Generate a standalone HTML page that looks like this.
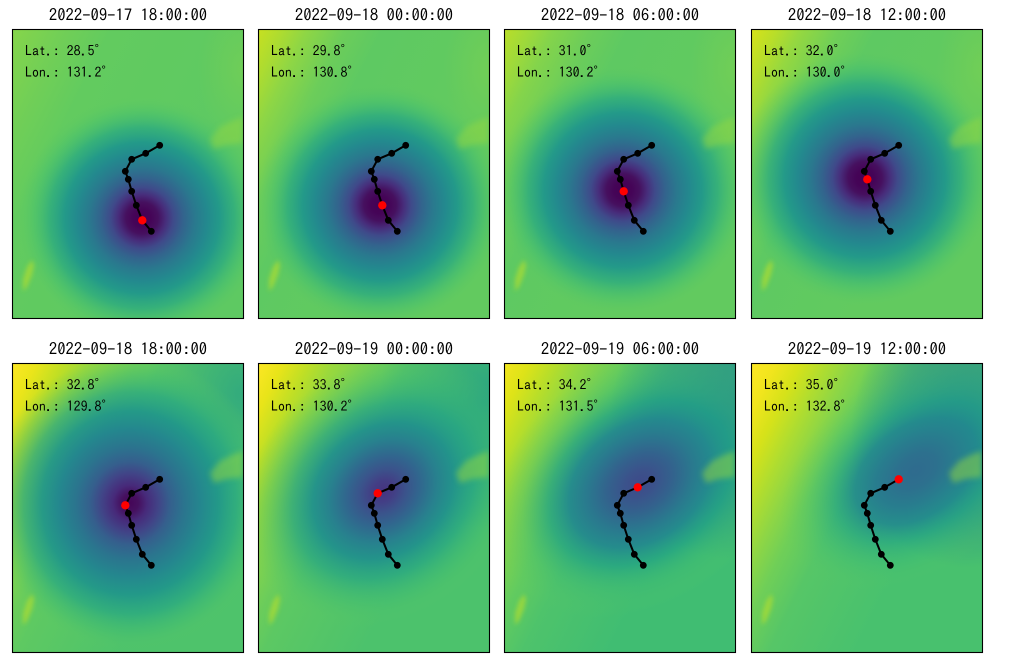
<!DOCTYPE html>
<html><head><meta charset="utf-8">
<style>
html,body{margin:0;padding:0;background:#fff;width:1017px;height:671px;overflow:hidden}
svg{display:block}
text{font-family:"IPAGothic","Liberation Mono",monospace;fill:#000}
.t{font-size:16.67px}
.l{font-size:13.9px}
</style></head><body>
<svg width="1017" height="671" viewBox="0 0 1017 671" xmlns="http://www.w3.org/2000/svg">
<defs>
<clipPath id="cp"><rect x="0" y="0" width="232" height="290"/></clipPath>
<filter id="b3" x="-50%" y="-50%" width="200%" height="200%"><feGaussianBlur stdDeviation="3"/></filter>
<filter id="b2" x="-50%" y="-50%" width="200%" height="200%"><feGaussianBlur stdDeviation="2"/></filter>

<linearGradient id="bg1" gradientUnits="userSpaceOnUse" x1="0" y1="0" x2="200" y2="100">
<stop offset="0" stop-color="#86d54a"/><stop offset="0.2" stop-color="#72cf56"/><stop offset="0.4" stop-color="#62cb5f"/><stop offset="1" stop-color="#5ec962"/></linearGradient>
<linearGradient id="bg2" gradientUnits="userSpaceOnUse" x1="0" y1="0" x2="200" y2="100">
<stop offset="0" stop-color="#c8e020"/><stop offset="0.1" stop-color="#addc30"/><stop offset="0.2" stop-color="#8ed645"/><stop offset="0.35" stop-color="#6ccd5a"/><stop offset="0.5" stop-color="#5ec962"/><stop offset="1" stop-color="#62ca5f"/></linearGradient>
<linearGradient id="bg3" gradientUnits="userSpaceOnUse" x1="0" y1="0" x2="200" y2="100">
<stop offset="0" stop-color="#bade28"/><stop offset="0.1" stop-color="#a0da39"/><stop offset="0.2" stop-color="#84d44b"/><stop offset="0.35" stop-color="#6ccd5a"/><stop offset="0.5" stop-color="#5ec962"/><stop offset="1" stop-color="#62ca5f"/></linearGradient>
<linearGradient id="bg4" gradientUnits="userSpaceOnUse" x1="0" y1="0" x2="200" y2="100">
<stop offset="0" stop-color="#d8e219"/><stop offset="0.1" stop-color="#bade28"/><stop offset="0.2" stop-color="#95d840"/><stop offset="0.35" stop-color="#70cf57"/><stop offset="0.5" stop-color="#5ec962"/><stop offset="1" stop-color="#62ca5f"/></linearGradient>
<linearGradient id="bg5" gradientUnits="userSpaceOnUse" x1="0" y1="0" x2="200" y2="100">
<stop offset="0" stop-color="#fde725"/><stop offset="0.1" stop-color="#eae51a"/><stop offset="0.2" stop-color="#c2df23"/><stop offset="0.3" stop-color="#9cd93b"/><stop offset="0.4" stop-color="#84d44b"/><stop offset="0.5" stop-color="#6ccd5a"/><stop offset="0.6" stop-color="#5ec962"/><stop offset="1" stop-color="#4ec36b"/></linearGradient>
<linearGradient id="bg6" gradientUnits="userSpaceOnUse" x1="0" y1="0" x2="200" y2="100">
<stop offset="0" stop-color="#fde725"/><stop offset="0.1" stop-color="#e8e419"/><stop offset="0.2" stop-color="#c0df25"/><stop offset="0.3" stop-color="#9ad93c"/><stop offset="0.4" stop-color="#82d34d"/><stop offset="0.5" stop-color="#6ccd5a"/><stop offset="0.6" stop-color="#5cc863"/><stop offset="1" stop-color="#4cc26c"/></linearGradient>
<linearGradient id="bg7" gradientUnits="userSpaceOnUse" x1="0" y1="0" x2="200" y2="100">
<stop offset="0" stop-color="#f4e61e"/><stop offset="0.1" stop-color="#dde318"/><stop offset="0.2" stop-color="#b8de29"/><stop offset="0.3" stop-color="#95d840"/><stop offset="0.4" stop-color="#7ad151"/><stop offset="0.5" stop-color="#62cb5f"/><stop offset="0.65" stop-color="#4ec36b"/><stop offset="1" stop-color="#40bd72"/></linearGradient>
<linearGradient id="bg8" gradientUnits="userSpaceOnUse" x1="0" y1="0" x2="200" y2="100">
<stop offset="0" stop-color="#fde725"/><stop offset="0.1" stop-color="#f1e51d"/><stop offset="0.2" stop-color="#d5e21a"/><stop offset="0.3" stop-color="#b0dd2f"/><stop offset="0.4" stop-color="#8ed645"/><stop offset="0.5" stop-color="#70cf57"/><stop offset="0.65" stop-color="#56c667"/><stop offset="1" stop-color="#48c16e"/></linearGradient>

<radialGradient id="lowA">
<stop offset="0" stop-color="#440154"/><stop offset="0.07" stop-color="#450457"/><stop offset="0.13" stop-color="#46105f"/><stop offset="0.19" stop-color="#472d7b"/><stop offset="0.25" stop-color="#3f4a8a"/><stop offset="0.33" stop-color="#33638d"/><stop offset="0.42" stop-color="#2a788e"/><stop offset="0.52" stop-color="#23898e"/><stop offset="0.62" stop-color="#20978b" stop-opacity="0.95"/><stop offset="0.74" stop-color="#28a882" stop-opacity="0.75"/><stop offset="0.87" stop-color="#40bd72" stop-opacity="0.4"/><stop offset="1" stop-color="#5ec962" stop-opacity="0"/></radialGradient>
<radialGradient id="lowB">
<stop offset="0" stop-color="#450658"/><stop offset="0.06" stop-color="#46105f"/><stop offset="0.12" stop-color="#472a7a"/><stop offset="0.2" stop-color="#414487"/><stop offset="0.28" stop-color="#355f8d"/><stop offset="0.38" stop-color="#2b748e"/><stop offset="0.5" stop-color="#24878e"/><stop offset="0.62" stop-color="#1f958b" stop-opacity="0.92"/><stop offset="0.75" stop-color="#25a584" stop-opacity="0.7"/><stop offset="0.88" stop-color="#3bb874" stop-opacity="0.35"/><stop offset="1" stop-color="#5ec962" stop-opacity="0"/></radialGradient>
<radialGradient id="lowC">
<stop offset="0" stop-color="#46337f"/><stop offset="0.08" stop-color="#433e85"/><stop offset="0.16" stop-color="#3b528b"/><stop offset="0.26" stop-color="#31668e"/><stop offset="0.38" stop-color="#28808e"/><stop offset="0.5" stop-color="#21918c" stop-opacity="0.95"/><stop offset="0.65" stop-color="#24a385" stop-opacity="0.7"/><stop offset="0.82" stop-color="#3bb874" stop-opacity="0.35"/><stop offset="1" stop-color="#5ec962" stop-opacity="0"/></radialGradient>
<radialGradient id="lowD">
<stop offset="0" stop-color="#3e4a89"/><stop offset="0.1" stop-color="#3b528b"/><stop offset="0.22" stop-color="#33628d"/><stop offset="0.35" stop-color="#2a788e"/><stop offset="0.48" stop-color="#23898e" stop-opacity="0.95"/><stop offset="0.62" stop-color="#20a086" stop-opacity="0.7"/><stop offset="0.8" stop-color="#3bb874" stop-opacity="0.3"/><stop offset="1" stop-color="#5ec962" stop-opacity="0"/></radialGradient>
<radialGradient id="lowE">
<stop offset="0" stop-color="#2f6b8e"/><stop offset="0.15" stop-color="#2d708e"/><stop offset="0.3" stop-color="#287d8e"/><stop offset="0.45" stop-color="#22898e" stop-opacity="0.9"/><stop offset="0.6" stop-color="#1fa088" stop-opacity="0.6"/><stop offset="0.8" stop-color="#35b779" stop-opacity="0.25"/><stop offset="1" stop-color="#5ec962" stop-opacity="0"/></radialGradient>

<radialGradient id="tr5"><stop offset="0" stop-color="#2aa383" stop-opacity="0.75"/><stop offset="1" stop-color="#2aa383" stop-opacity="0"/></radialGradient>
<radialGradient id="tr6"><stop offset="0" stop-color="#24a085" stop-opacity="0.85"/><stop offset="1" stop-color="#24a085" stop-opacity="0"/></radialGradient>
<radialGradient id="tr7"><stop offset="0" stop-color="#23898e" stop-opacity="0.95"/><stop offset="0.6" stop-color="#23898e" stop-opacity="0.5"/><stop offset="1" stop-color="#23898e" stop-opacity="0"/></radialGradient>
<radialGradient id="tr8"><stop offset="0" stop-color="#24848e" stop-opacity="0.95"/><stop offset="0.6" stop-color="#24848e" stop-opacity="0.5"/><stop offset="1" stop-color="#24848e" stop-opacity="0"/></radialGradient>
<radialGradient id="rl"><stop offset="0" stop-color="#7ad151" stop-opacity="0.6"/><stop offset="1" stop-color="#7ad151" stop-opacity="0"/></radialGradient>

<g id="patches">
<polygon points="198,110 208,98 220,92 231,88 231,114 214,116 202,120" fill="#95d840" opacity="0.5" filter="url(#b3)"/>
<polygon points="20,231 15,238 11,250 11,262 15,258 20,246 22,236" fill="#a8db34" opacity="0.75" filter="url(#b2)"/>
</g>
<g id="track">
<polyline points="147.7,116.3 133.7,124.3 119.7,130.3 113.3,142.3 116.3,150.3 119.7,162.3 124.3,176.3 130.3,191.3 139.3,202.3" fill="none" stroke="#000" stroke-width="2"/>
<circle cx="147.7" cy="116.3" r="3.4"/><circle cx="133.7" cy="124.3" r="3.4"/><circle cx="119.7" cy="130.3" r="3.4"/><circle cx="113.3" cy="142.3" r="3.4"/><circle cx="116.3" cy="150.3" r="3.4"/><circle cx="119.7" cy="162.3" r="3.4"/><circle cx="124.3" cy="176.3" r="3.4"/><circle cx="130.3" cy="191.3" r="3.4"/><circle cx="139.3" cy="202.3" r="3.4"/>
</g>
<rect id="frame" x="0.5" y="0.5" width="231" height="289" fill="none" stroke="#000" stroke-width="1.1"/>
</defs>

<!-- Panel 1 -->
<g transform="translate(12,29)">
<g clip-path="url(#cp)">
<rect width="232" height="290" fill="url(#bg1)"/>
<ellipse cx="231" cy="40" rx="45" ry="75" fill="url(#rl)"/>
<ellipse cx="130" cy="189" rx="125" ry="122" fill="url(#lowA)"/>
<use href="#patches"/>
</g>
<use href="#track"/>
<circle cx="130.3" cy="191.3" r="4.2" fill="#ff0000"/>
<use href="#frame"/>
<text class="l" x="13" y="26.5">Lat.: 28.5°</text>
<text class="l" x="13" y="48">Lon.: 131.2°</text>
</g>
<text class="t" x="128" y="21" text-anchor="middle">2022-09-17 18:00:00</text>

<!-- Panel 2 -->
<g transform="translate(258,29)">
<g clip-path="url(#cp)">
<rect width="232" height="290" fill="url(#bg2)"/>
<ellipse cx="231" cy="40" rx="45" ry="75" fill="url(#rl)"/>
<ellipse cx="122" cy="176" rx="125" ry="122" fill="url(#lowA)"/>
<use href="#patches"/>
</g>
<use href="#track"/>
<circle cx="124.3" cy="176.3" r="4.2" fill="#ff0000"/>
<use href="#frame"/>
<text class="l" x="13" y="26.5">Lat.: 29.8°</text>
<text class="l" x="13" y="48">Lon.: 130.8°</text>
</g>
<text class="t" x="374" y="21" text-anchor="middle">2022-09-18 00:00:00</text>

<!-- Panel 3 -->
<g transform="translate(504,29)">
<g clip-path="url(#cp)">
<rect width="232" height="290" fill="url(#bg3)"/>
<ellipse cx="231" cy="40" rx="45" ry="75" fill="url(#rl)"/>
<ellipse cx="119" cy="161" rx="128" ry="125" fill="url(#lowA)"/>
<use href="#patches"/>
</g>
<use href="#track"/>
<circle cx="119.7" cy="162.3" r="4.2" fill="#ff0000"/>
<use href="#frame"/>
<text class="l" x="13" y="26.5">Lat.: 31.0°</text>
<text class="l" x="13" y="48">Lon.: 130.2°</text>
</g>
<text class="t" x="620" y="21" text-anchor="middle">2022-09-18 06:00:00</text>

<!-- Panel 4 -->
<g transform="translate(751,29)">
<g clip-path="url(#cp)">
<rect width="232" height="290" fill="url(#bg4)"/>
<ellipse cx="231" cy="40" rx="45" ry="75" fill="url(#rl)"/>
<ellipse cx="114" cy="149" rx="130" ry="128" fill="url(#lowA)"/>
<use href="#patches"/>
</g>
<use href="#track"/>
<circle cx="116.3" cy="150.3" r="4.2" fill="#ff0000"/>
<use href="#frame"/>
<text class="l" x="13" y="26.5">Lat.: 32.0°</text>
<text class="l" x="13" y="48">Lon.: 130.0°</text>
</g>
<text class="t" x="867" y="21" text-anchor="middle">2022-09-18 12:00:00</text>

<!-- Panel 5 -->
<g transform="translate(12,363)">
<g clip-path="url(#cp)">
<rect width="232" height="290" fill="url(#bg5)"/>
<ellipse cx="228" cy="30" rx="95" ry="115" fill="url(#tr5)"/>
<ellipse cx="118" cy="140" rx="142" ry="148" fill="url(#lowB)"/>
<use href="#patches"/>
</g>
<use href="#track"/>
<circle cx="113.3" cy="142.3" r="4.2" fill="#ff0000"/>
<use href="#frame"/>
<text class="l" x="13" y="26.5">Lat.: 32.8°</text>
<text class="l" x="13" y="48">Lon.: 129.8°</text>
</g>
<text class="t" x="128" y="355" text-anchor="middle">2022-09-18 18:00:00</text>

<!-- Panel 6 -->
<g transform="translate(258,363)">
<g clip-path="url(#cp)">
<rect width="232" height="290" fill="url(#bg6)"/>
<ellipse cx="225" cy="40" rx="105" ry="125" fill="url(#tr6)"/>
<ellipse cx="0" cy="0" rx="150" ry="125" fill="url(#lowC)" transform="translate(125,128) rotate(-40)"/>
<use href="#patches"/>
</g>
<use href="#track"/>
<circle cx="119.7" cy="130.3" r="4.2" fill="#ff0000"/>
<use href="#frame"/>
<text class="l" x="13" y="26.5">Lat.: 33.8°</text>
<text class="l" x="13" y="48">Lon.: 130.2°</text>
</g>
<text class="t" x="374" y="355" text-anchor="middle">2022-09-19 00:00:00</text>

<!-- Panel 7 -->
<g transform="translate(504,363)">
<g clip-path="url(#cp)">
<rect width="232" height="290" fill="url(#bg7)"/>
<ellipse cx="220" cy="60" rx="115" ry="135" fill="url(#tr7)"/>
<ellipse cx="0" cy="0" rx="160" ry="120" fill="url(#lowD)" transform="translate(136,120) rotate(-35)"/>
<use href="#patches"/>
</g>
<use href="#track"/>
<circle cx="133.7" cy="124.3" r="4.2" fill="#ff0000"/>
<use href="#frame"/>
<text class="l" x="13" y="26.5">Lat.: 34.2°</text>
<text class="l" x="13" y="48">Lon.: 131.5°</text>
</g>
<text class="t" x="620" y="355" text-anchor="middle">2022-09-19 06:00:00</text>

<!-- Panel 8 -->
<g transform="translate(751,363)">
<g clip-path="url(#cp)">
<rect width="232" height="290" fill="url(#bg8)"/>
<ellipse cx="215" cy="70" rx="115" ry="135" fill="url(#tr8)"/>
<ellipse cx="0" cy="0" rx="150" ry="100" fill="url(#lowE)" transform="translate(165,108) rotate(-35)"/>
<use href="#patches"/>
</g>
<use href="#track"/>
<circle cx="147.7" cy="116.3" r="4.2" fill="#ff0000"/>
<use href="#frame"/>
<text class="l" x="13" y="26.5">Lat.: 35.0°</text>
<text class="l" x="13" y="48">Lon.: 132.8°</text>
</g>
<text class="t" x="867" y="355" text-anchor="middle">2022-09-19 12:00:00</text>
</svg>
</body></html>
